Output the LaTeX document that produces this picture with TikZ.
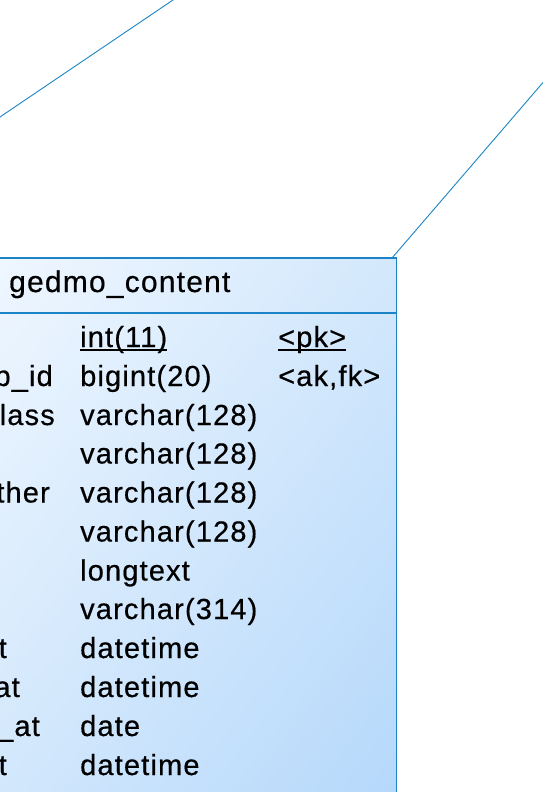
\documentclass[tikz,border=0pt]{standalone}
\usepackage{fontspec}
\setmainfont{Liberation Sans}[LetterSpace=4,FakeBold=0.5]
\usetikzlibrary{calc,shadings}

\definecolor{linkblue}{HTML}{1A84C6}
\definecolor{paleblue}{HTML}{F0F7FF}
\definecolor{midblue}{HTML}{D3E8FC}
\definecolor{deepblue}{HTML}{B5D8FB}

\begin{document}
\begin{tikzpicture}[x=1pt,y=-1pt,
  cell/.style={inner sep=0pt,anchor=base west,font=\fontsize{29}{29}\selectfont},
  colname/.style={cell,anchor=base east},
  keyline/.style={line width=2pt},
  border/.style={linkblue,line width=1.5pt}]
  \clip (0,0) rectangle (543,792);

  % the table
  \coordinate (boxnw) at (-20,258);
  \coordinate (boxse) at (396.5,800);
  \shade[upper left=paleblue,upper right=midblue,
         lower left=midblue,lower right=deepblue] (boxnw) rectangle (boxse);
  \draw[border] (boxnw) rectangle (boxse);
  \draw[border] (boxnw |- 0,313) -- (boxse |- 0,313);

  \node[cell,font=\fontsize{30}{30}\selectfont] (title) at (9,292) {gedmo\_content};

  % column names, cut at the left edge
  \node[colname] (col1)  at (53,386)  {p\_id};
  \node[colname] (col2)  at (55,425)  {class};
  \node[colname] (col4)  at (50,502.5) {ther};
  \node[colname] (col8)  at (7,658)   {t};
  \node[colname] (col9)  at (20,697)  {at};
  \node[colname] (col10) at (40,736)  {\_at};
  \node[colname] (col11) at (7,775)   {t};

  % types
  \node[cell] (type0)  at (80,347)   {int(11)};
  \node[cell] (type1)  at (80,386)   {bigint(20)};
  \node[cell] (type2)  at (80,425)   {varchar(128)};
  \node[cell] (type3)  at (80,463.5) {varchar(128)};
  \node[cell] (type4)  at (80,502.5) {varchar(128)};
  \node[cell] (type5)  at (80,541.5) {varchar(128)};
  \node[cell] (type6)  at (80,580.5) {longtext};
  \node[cell] (type7)  at (80,619)   {varchar(314)};
  \node[cell] (type8)  at (80,658)   {datetime};
  \node[cell] (type9)  at (80,697)   {datetime};
  \node[cell] (type10) at (80,736)   {date};
  \node[cell] (type11) at (80,775)   {datetime};

  % keys
  \node[cell] (key0) at (278,347) {<pk>};
  \node[cell] (key1) at (278,386) {<ak,fk>};

  \draw[keyline] ($(type0.base west)+(0,3)$) -- ($(type0.base east)+(0,3)$);
  \draw[keyline] ($(key0.base west)+(0,3)$) -- ($(key0.base east)+(0,3)$);

  % links to the other tables
  \coordinate (far1) at (-20,130.5);
  \coordinate (far2) at (190,-11.5);
  \draw[linkblue,line width=0.9pt] (far1) -- (far2);

  \coordinate (link) at (392,258);
  \coordinate (far3) at (620,-7);
  \draw[linkblue,line width=0.9pt] (link) -- (far3);
\end{tikzpicture}
\end{document}
